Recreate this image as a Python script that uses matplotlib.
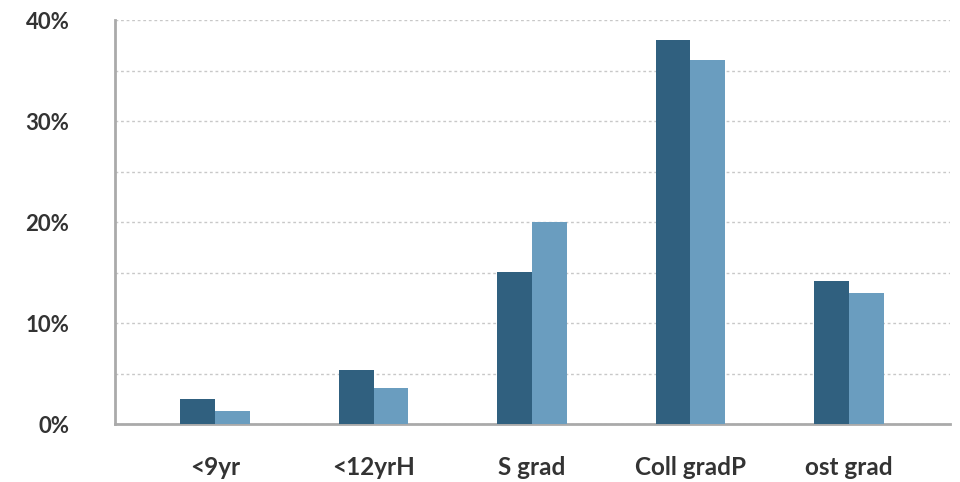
import numpy as np
import matplotlib.pyplot as plt

categories = ["<9yr", "<12yrH", "S grad", "Coll gradP", "ost grad"]
series_a = [2.5, 5.4, 15.1, 38.0, 14.2]
series_b = [1.3, 3.6, 20.0, 36.0, 13.0]

plt.rcParams['font.family'] = ['Lato', 'DejaVu Sans']

fig = plt.figure(figsize=(9.6, 4.82), dpi=100)
ax = fig.add_axes([0.12, 0.12, 0.87, 0.8385])

x = np.arange(len(categories))
w = 0.22
ax.bar(x - w / 2, series_a, w, color="#30607f", zorder=3)
ax.bar(x + w / 2, series_b, w, color="#6a9dbf", zorder=3)

ax.set_ylim(0, 40)
ax.set_xlim(-0.63, 4.64)
ax.set_yticks([0, 10, 20, 30, 40])
ax.set_yticklabels([f"{v}%" for v in [0, 10, 20, 30, 40]])
ax.set_yticks([5, 15, 25, 35], minor=True)
ax.grid(axis="y", which="both", linestyle=(0, (2, 2)), color="#c8c8c8", linewidth=1, zorder=0)
ax.set_xticks(x)
ax.set_xticklabels(categories)

ax.tick_params(axis="both", which="both", length=0, labelcolor="#333333")
ax.tick_params(axis="y", pad=33, labelsize=16)
ax.tick_params(axis="x", pad=23, labelsize=17.5)
for lab in ax.get_xticklabels() + ax.get_yticklabels():
    lab.set_fontweight("bold")

for s in ["top", "right"]:
    ax.spines[s].set_visible(False)
ax.spines["left"].set_color("#aaaaaa")
ax.spines["left"].set_linewidth(2)
ax.spines["bottom"].set_color("#aaaaaa")
ax.spines["bottom"].set_linewidth(2)

fig.savefig("out.png", dpi=100)
